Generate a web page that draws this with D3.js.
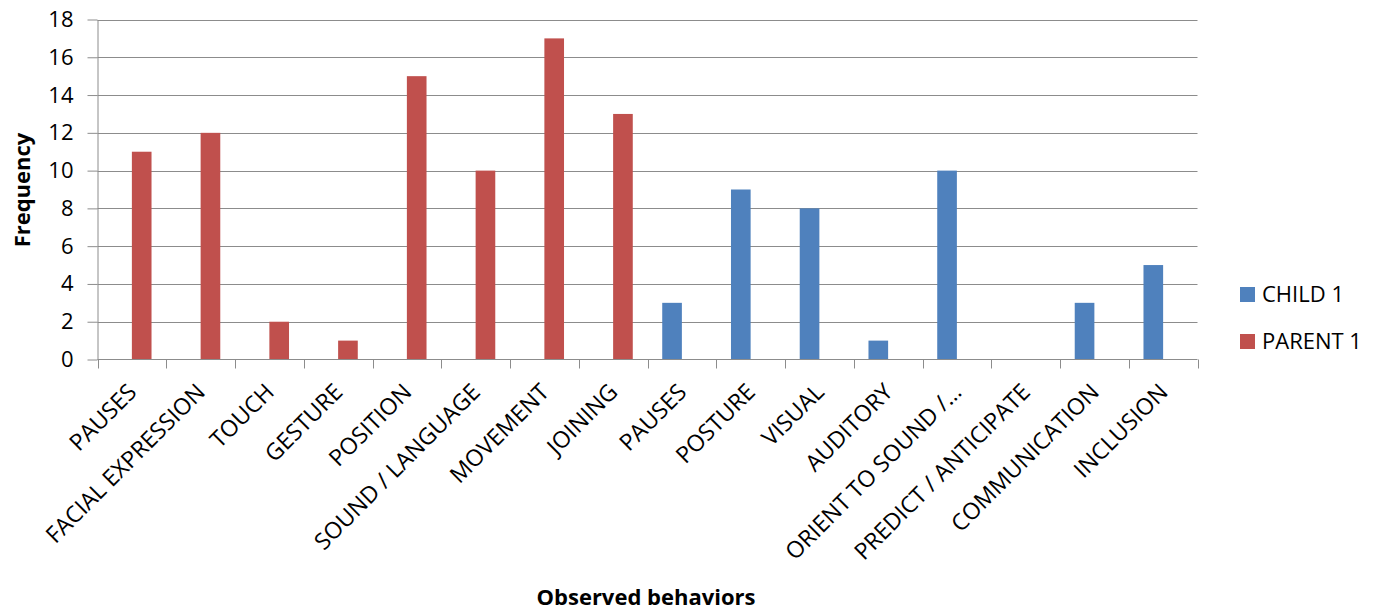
<!DOCTYPE html>
<html>
<head>
<meta charset="utf-8">
<script src="https://cdn.jsdelivr.net/npm/d3@7"></script>
<style>
  html, body { margin: 0; padding: 0; background: #fff; }
  svg { display: block; font-family: "Open Sans", Calibri, sans-serif; }
</style>
</head>
<body>
<svg id="chart" width="1379" height="610"></svg>
<script>
// Observed behaviours and their frequencies for each participant
const categories = [
  "PAUSES", "FACIAL EXPRESSION", "TOUCH", "GESTURE", "POSITION",
  "SOUND / LANGUAGE", "MOVEMENT", "JOINING", "PAUSES", "POSTURE",
  "VISUAL", "AUDITORY", "ORIENT TO SOUND /…", "PREDICT / ANTICIPATE",
  "COMMUNICATION", "INCLUSION"
];
const seriesNames = ["CHILD 1", "PARENT 1"];
const child1  = [null, null, null, null, null, null, null, null, 3, 9, 8, 1, 10, 0, 3, 5];
const parent1 = [11, 12, 2, 1, 15, 10, 17, 13, null, null, null, null, null, null, null, null];
const seriesColors = ["#4F81BD", "#C0504D"];
const yTicks = [0, 2, 4, 6, 8, 10, 12, 14, 16, 18];

const values = [child1, parent1];
const svg = d3.select("#chart");

const plot = { left: 97.5, right: 1197.5, top: 19.5, bottom: 359.5 };
const gridColor = "#8C8C8C";

const x = d3.scaleBand()
  .domain(categories.map((d, i) => i))
  .range([plot.left, plot.right])
  .paddingInner(0).paddingOuter(0);

// two bars per category, gap width 150% of a bar
const barW = x.bandwidth() / 3.5;
const xs = d3.scaleBand()
  .domain(seriesNames)
  .range([x.bandwidth() / 2 - barW, x.bandwidth() / 2 + barW]);

const y = d3.scaleLinear().domain([0, 18]).range([plot.bottom, plot.top]);

// horizontal gridlines
svg.append("g")
  .selectAll("line")
  .data(yTicks.filter(t => t > 0))
  .join("line")
  .attr("x1", plot.left).attr("x2", plot.right)
  .attr("y1", d => Math.round(y(d)) + 0.5).attr("y2", d => Math.round(y(d)) + 0.5)
  .attr("stroke", gridColor).attr("stroke-width", 1);

// y axis
const yAxis = svg.append("g")
  .attr("transform", `translate(${plot.left},0)`)
  .call(d3.axisLeft(y).tickValues(yTicks).tickSize(10).tickPadding(14).tickSizeOuter(0));
yAxis.select(".domain").attr("stroke", gridColor);
yAxis.selectAll(".tick line").attr("stroke", gridColor);
yAxis.selectAll(".tick text")
  .attr("fill", "#000")
  .style("font-size", "22px")
  .style("font-family", "Open Sans");

// bars
values.forEach((vals, si) => {
  svg.append("g")
    .selectAll("rect")
    .data(vals.map((v, i) => ({ i, v })).filter(d => d.v !== null && d.v > 0))
    .join("rect")
    .attr("x", d => x(d.i) + xs(seriesNames[si]))
    .attr("width", xs.bandwidth())
    .attr("y", d => y(d.v))
    .attr("height", d => y(0) - y(d.v))
    .attr("fill", seriesColors[si]);
});

// x axis with ticks on category boundaries
const xg = svg.append("g").attr("transform", `translate(0,${plot.bottom})`);
xg.append("line")
  .attr("x1", plot.left).attr("x2", plot.right)
  .attr("stroke", gridColor);
const boundaries = d3.range(categories.length + 1);
xg.selectAll("line.tick")
  .data(boundaries)
  .join("line")
  .attr("class", "tick")
  .attr("x1", d => Math.round(plot.left + d * x.step()) + 0.5)
  .attr("x2", d => Math.round(plot.left + d * x.step()) + 0.5)
  .attr("y1", 0).attr("y2", 9)
  .attr("stroke", gridColor);

// rotated category labels
svg.append("g")
  .selectAll("text")
  .data(categories)
  .join("text")
  .attr("text-anchor", "end")
  .attr("transform", (d, i) => `translate(${x(i) + x.bandwidth() / 2 + 6},${plot.bottom + 34}) rotate(-45)`)
  .style("font-size", "23px")
  .attr("fill", "#000")
  .text(d => d);

// axis titles
svg.append("text")
  .attr("transform", `translate(30,190) rotate(-90)`)
  .attr("text-anchor", "middle")
  .style("font-size", "22px")
  .style("font-weight", "bold")
  .text("Frequency");

svg.append("text")
  .attr("x", 646).attr("y", 605)
  .attr("text-anchor", "middle")
  .style("font-size", "22px")
  .style("font-weight", "bold")
  .text("Observed behaviors");

// legend
const legend = svg.append("g");
const legendY = [294.5, 341.5];
seriesNames.forEach((name, i) => {
  legend.append("rect")
    .attr("x", 1240).attr("y", legendY[i] - 7.5)
    .attr("width", 15).attr("height", 15)
    .attr("fill", seriesColors[i]);
  legend.append("text")
    .attr("x", 1262).attr("y", legendY[i])
    .attr("dy", "0.36em")
    .style("font-size", "22px")
    .text(name);
});
</script>
</body>
</html>
